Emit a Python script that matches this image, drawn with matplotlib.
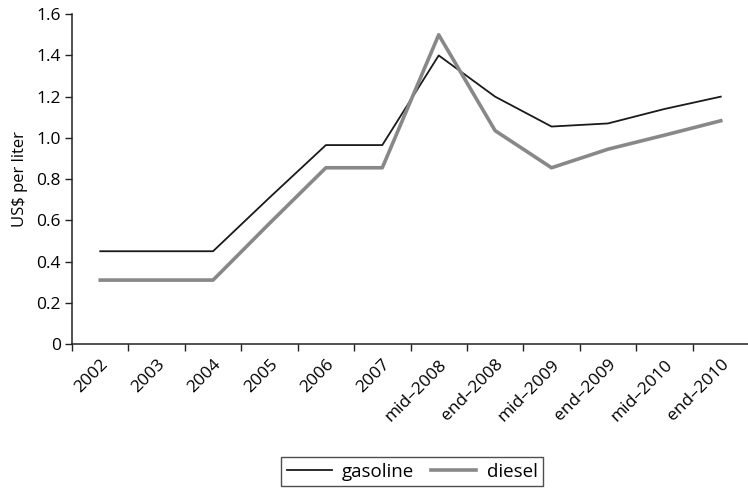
import matplotlib.pyplot as plt
import numpy as np

plt.rcParams["font.family"] = ["Open Sans", "DejaVu Sans"]

periods = ["2002", "2003", "2004", "2005", "2006", "2007", "mid–2008",
           "end–2008", "mid–2009", "end–2009", "mid–2010", "end–2010"]
gasoline = [0.45, 0.45, 0.45, 0.71, 0.965, 0.965, 1.40, 1.20, 1.055, 1.07, 1.14, 1.20]
diesel = [0.31, 0.31, 0.31, 0.585, 0.855, 0.855, 1.50, 1.035, 0.855, 0.945, 1.013, 1.083]
yticks = [0, 0.2, 0.4, 0.6, 0.8, 1.0, 1.2, 1.4, 1.6]
ytick_labels = ["0", "0.2", "0.4", "0.6", "0.8", "1.0", "1.2", "1.4", "1.6"]

fs = 12.5
fig = plt.figure(figsize=(7.48, 4.9), dpi=100)
ax = fig.add_axes([0.0963, 0.298, 0.905, 0.673])

x = np.arange(len(periods))
ax.plot(x, gasoline, color="#1a1a1a", lw=1.3, label="gasoline")
ax.plot(x, diesel, color="#888888", lw=2.6, label="diesel")

ax.set_xlim(-0.5, len(periods) - 0.5)
ax.set_ylim(0, 1.6)
ax.set_yticks(yticks)
ax.set_yticklabels(ytick_labels, fontsize=fs)
ax.set_ylabel("US$ per liter", fontsize=fs - 0.5, labelpad=6)

ax.set_xticks(x)
ax.set_xticklabels(periods, rotation=45, ha="right", rotation_mode="anchor", fontsize=fs)
ax.set_xticks(np.arange(len(periods) + 1) - 0.5, minor=True)
ax.tick_params(axis="x", which="major", length=0, pad=9)
ax.tick_params(axis="x", which="minor", length=5, width=1, color="#222222")
ax.tick_params(axis="y", length=5, width=1, color="#222222", pad=3)

ax.spines["top"].set_visible(False)
ax.spines["right"].set_visible(False)
for s in ["left", "bottom"]:
    ax.spines[s].set_linewidth(1.1)
    ax.spines[s].set_color("#222222")

leg = fig.legend(loc="center", bbox_to_anchor=(0.551, 0.037), ncol=2, fontsize=13.5,
                 frameon=True, fancybox=False, handlelength=2.4, columnspacing=0.9,
                 borderpad=0.3, handletextpad=0.55, borderaxespad=0)
leg.get_frame().set_edgecolor("#222222")
leg.get_frame().set_linewidth(1.0)

fig.savefig("out.png", dpi=100)
